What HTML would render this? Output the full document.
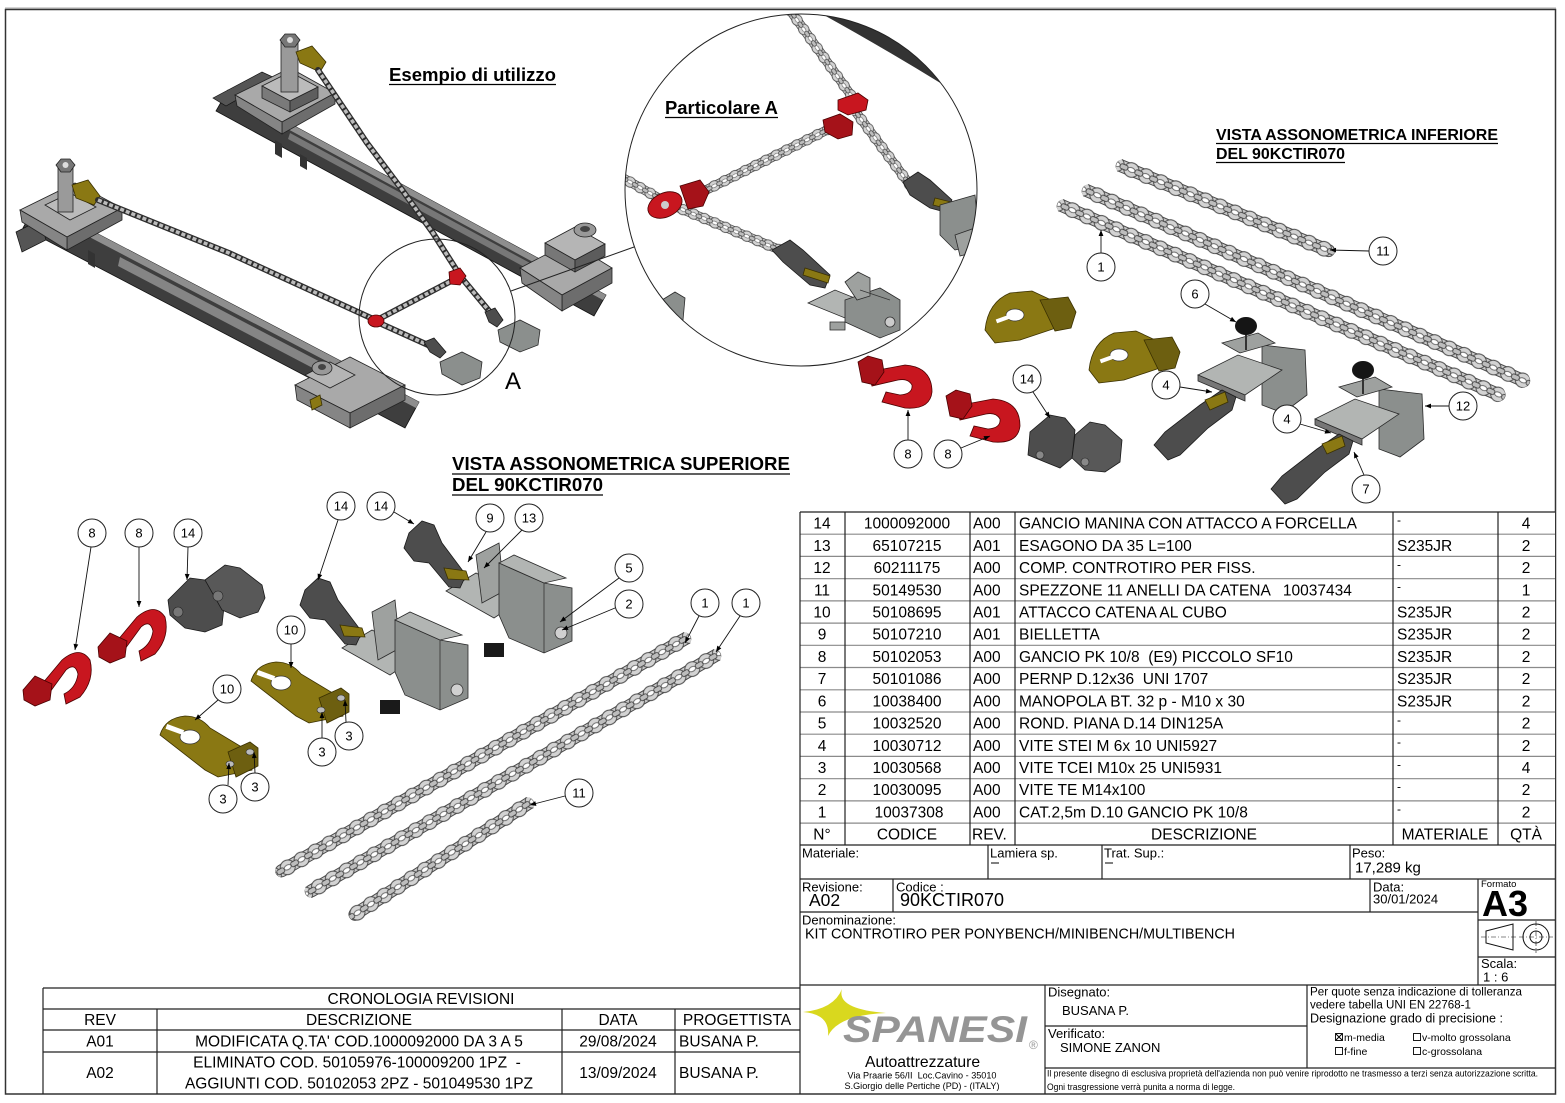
<!DOCTYPE html>
<html><head><meta charset="utf-8">
<style>
html,body{margin:0;padding:0;background:#fff}
svg{display:block}
text{font-family:"Liberation Sans",Arial,sans-serif;fill:#000;white-space:pre}
.t{font-size:15.5px}
.b{font-weight:bold}
.ln{stroke:#222;stroke-width:1.2;fill:none}
.lg{stroke:#8a8a8a;stroke-width:1.2;fill:none}
.ms1{fill:none;stroke:#2e2e2e;stroke-width:6;stroke-linecap:round;stroke-linejoin:round}
.ms2{fill:none;stroke:#bcbcbc;stroke-width:3.5;stroke-dasharray:4 2;stroke-linejoin:round}
.bl circle{fill:#fff;stroke:#222;stroke-width:1}
.bl text{font-size:13px;text-anchor:middle}
.ld{stroke:#111;stroke-width:0.9;marker-end:url(#ar)}
.red{fill:#c8161f;stroke:#4a0000;stroke-width:0.8}
.red2{fill:#a51219;stroke:#4a0000;stroke-width:0.8}
.dg{fill:#4d4d4d;stroke:#1a1a1a;stroke-width:0.8}
.gy{fill:#8b8f8d;stroke:#2a2a2a;stroke-width:0.8}
.gl{fill:#b2b5b3;stroke:#2a2a2a;stroke-width:0.8}
.gm{fill:#9ea19f;stroke:#2a2a2a;stroke-width:0.8}
.ol{fill:#8a7813;stroke:#3a3000;stroke-width:0.8}
.ol2{fill:#6d5f10;stroke:#3a3000;stroke-width:0.8}
.cbg{fill:#c9c9c9;stroke:#4a4a4a;stroke-width:1}
.cpt{fill:url(#chB)}
</style></head><body>
<svg width="1565" height="1103" viewBox="0 0 1565 1103" xmlns="http://www.w3.org/2000/svg">
<defs>
<marker id="ar" viewBox="0 0 10 10" refX="10" refY="5" markerWidth="8" markerHeight="6" markerUnits="userSpaceOnUse" orient="auto"><path d="M0,1 L10,5 L0,9 z" fill="#000"/></marker>
<clipPath id="cp"><circle cx="801" cy="190" r="176"/></clipPath>
<pattern id="chB" patternUnits="userSpaceOnUse" x="0" y="-8" width="16" height="16">
 <ellipse cx="8" cy="8" rx="7.6" ry="7.2" fill="#d3d3d3" stroke="#4a4a4a" stroke-width="1"/>
 <ellipse cx="8" cy="8" rx="3.8" ry="2.3" fill="#fff" stroke="#5a5a5a" stroke-width="0.8"/>
 <rect x="-4" y="5.5" width="8" height="5" rx="2" fill="#bdbdbd" stroke="#4a4a4a" stroke-width="0.9"/>
 <rect x="12" y="5.5" width="8" height="5" rx="2" fill="#bdbdbd" stroke="#4a4a4a" stroke-width="0.9"/>
</pattern>
</defs>

<!-- page border -->
<line x1="5" y1="8" x2="1556" y2="8" stroke="#aaa" stroke-width="1"/>
<rect x="5.5" y="9.5" width="1550" height="1084.5" fill="none" stroke="#333" stroke-width="1.5"/>

<!-- ===== MAIN ASSEMBLY ===== -->
<g>
 <polygon points="228,90 606,295 594,316 216,111" fill="#3e3e3e" stroke="#111" stroke-width="0.8"/>
 <polygon points="228,90 606,295 603,300 225,95" fill="#8e8e8e"/>
 <polygon points="290,133 530,263 528,269 288,139" fill="#777"/>
 <polygon points="275,140 282,144 282,158 275,154" fill="#333"/>
 <polygon points="300,154 307,158 307,170 300,166" fill="#333"/>
 <polygon points="37,202 419,402 405,428 23,228" fill="#3e3e3e" stroke="#111" stroke-width="0.8"/>
 <polygon points="37,202 419,402 416,408 34,208" fill="#8e8e8e"/>
 <polygon points="120,257 330,367 328,376 118,266" fill="#858585"/>
 <polygon points="88,250 95,254 95,268 88,264" fill="#333"/>

 <polygon points="213,98 262,72 275,78 226,106" fill="#555" stroke="#111" stroke-width="0.7"/>
 <polygon points="235,95 290,68 335,93 282,122" fill="#a9a9a9" stroke="#222" stroke-width="0.8"/>
 <polygon points="282,122 335,93 335,104 282,134" fill="#6d6d6d" stroke="#222" stroke-width="0.8"/>
 <polygon points="235,95 282,122 282,134 237,106" fill="#858585" stroke="#222" stroke-width="0.8"/>
 <polygon points="262,86 290,72 318,87 290,101" fill="#bbb" stroke="#222" stroke-width="0.8"/>
 <polygon points="262,86 290,101 290,112 262,98" fill="#7a7a7a" stroke="#222" stroke-width="0.8"/>
 <polygon points="290,101 318,87 318,98 290,112" fill="#5e5e5e" stroke="#222" stroke-width="0.8"/>
 <rect x="281" y="42" width="17" height="50" fill="#9a9a9a" stroke="#222" stroke-width="0.8"/>
 <polygon points="280,40 285,34 295,34 300,40 295,47 285,47" fill="#777" stroke="#222" stroke-width="0.8"/>
 <circle cx="290" cy="40" r="3" fill="#ddd"/>
 <polygon points="296,52 312,46 326,62 320,72 300,63" class="ol"/>
 <polygon points="16,232 40,220 46,240 22,252" fill="#555" stroke="#111" stroke-width="0.7"/>
 <polygon points="20,210 75,183 122,208 67,237" fill="#a9a9a9" stroke="#222" stroke-width="0.8"/>
 <polygon points="67,237 122,208 122,220 67,250" fill="#6d6d6d" stroke="#222" stroke-width="0.8"/>
 <polygon points="20,210 67,237 67,250 22,222" fill="#858585" stroke="#222" stroke-width="0.8"/>
 <polygon points="45,205 70,193 96,207 70,220" fill="#bbb" stroke="#222" stroke-width="0.8"/>
 <rect x="58" y="167" width="15" height="45" fill="#9a9a9a" stroke="#222" stroke-width="0.8"/>
 <polygon points="56,165 61,159 70,159 75,165 70,172 61,172" fill="#777" stroke="#222" stroke-width="0.8"/>
 <circle cx="65.5" cy="165" r="3" fill="#ddd"/>
 <polygon points="72,185 88,180 100,196 94,205 76,198" class="ol"/>
 <polygon points="520,268 570,242 612,268 562,295" fill="#a9a9a9" stroke="#222" stroke-width="0.8"/>
 <polygon points="562,295 612,268 612,283 562,311" fill="#6d6d6d" stroke="#222" stroke-width="0.8"/>
 <polygon points="520,268 562,295 562,311 522,283" fill="#858585" stroke="#222" stroke-width="0.8"/>
 <polygon points="545,243 575,227 605,244 575,260" fill="#b5b5b5" stroke="#222" stroke-width="0.8"/>
 <polygon points="545,243 575,260 575,272 545,255" fill="#777" stroke="#222" stroke-width="0.8"/>
 <polygon points="575,260 605,244 605,256 575,272" fill="#5c5c5c" stroke="#222" stroke-width="0.8"/>
 <ellipse cx="585" cy="230" rx="11" ry="7" fill="#999" stroke="#222" stroke-width="0.8"/>
 <ellipse cx="585" cy="229" rx="5" ry="3" fill="#444"/>
 <polygon points="295,385 350,357 405,385 350,413" fill="#a9a9a9" stroke="#222" stroke-width="0.8"/>
 <polygon points="350,413 405,385 405,400 350,428" fill="#6d6d6d" stroke="#222" stroke-width="0.8"/>
 <polygon points="295,385 350,413 350,428 297,400" fill="#858585" stroke="#222" stroke-width="0.8"/>
 <polygon points="305,375 330,362 355,375 330,388" fill="#b5b5b5" stroke="#222" stroke-width="0.8"/>
 <ellipse cx="322" cy="368" rx="10" ry="7" fill="#999" stroke="#222" stroke-width="0.8"/>
 <ellipse cx="322" cy="367" rx="4" ry="3" fill="#444"/>
 <polygon points="310,400 320,395 322,405 312,410" class="ol"/>

 <path class="ms1" d="M318,70 L367,143 L400,187 L433,233 L461,277 L490,312"/>
 <path class="ms2" d="M318,70 L367,143 L400,187 L433,233 L461,277 L490,312"/>
 <path class="ms1" d="M98,200 L229,253 L371,318"/>
 <path class="ms2" d="M98,200 L229,253 L371,318"/>
 <path class="ms1" d="M377,320 L455,279"/>
 <path class="ms2" d="M377,320 L455,279"/>
 <path class="ms1" d="M377,322 L428,345"/>
 <path class="ms2" d="M377,322 L428,345"/>
 <ellipse cx="376" cy="321" rx="8" ry="6" class="red"/>
 <polygon points="449,272 460,268 466,276 460,285 450,284" class="red"/>
 <polygon points="485,312 495,308 503,320 497,327 489,322" class="dg"/>
 <polygon points="498,330 520,320 540,330 538,345 520,352 500,342" class="gy"/>
 <polygon points="424,342 434,338 446,352 440,358 430,352" class="dg"/>
 <polygon points="440,362 462,352 482,362 480,378 462,385 442,374" class="gy"/>

 <circle cx="437" cy="317" r="78" fill="none" stroke="#222" stroke-width="1"/>
 <text x="505" y="389" font-size="24">A</text>
 <line x1="511" y1="291" x2="634" y2="247" stroke="#222" stroke-width="1"/>
</g>
<text x="389" y="81" class="b" font-size="18" textLength="167" lengthAdjust="spacingAndGlyphs">Esempio di utilizzo</text>
<line x1="389" y1="84.5" x2="556" y2="84.5" stroke="#000" stroke-width="1.3"/>

<!-- ===== PARTICOLARE A ===== -->
<g clip-path="url(#cp)">
 <path d="M815,0 L970,0 L970,110 L942,84 Q880,46 822,14 Z" fill="#333"/>
 <g transform="translate(787,6) rotate(54.35) scale(0.72)"><rect x="-8" y="-6" width="173" height="12" rx="6" class="cbg"/><rect x="-8" y="-8" width="173" height="16" rx="8" class="cpt"/></g>
 <g transform="translate(858,115) rotate(53.4) scale(0.72)"><rect x="-8" y="-6" width="137" height="12" rx="6" class="cbg"/><rect x="-8" y="-8" width="137" height="16" rx="8" class="cpt"/></g>
 <g transform="translate(833,127) rotate(153.6) scale(0.72)"><rect x="-8" y="-6" width="219" height="12" rx="6" class="cbg"/><rect x="-8" y="-8" width="219" height="16" rx="8" class="cpt"/></g>
 <g transform="translate(605,168) rotate(29.17) scale(0.72)"><rect x="-8" y="-6" width="96" height="12" rx="6" class="cbg"/><rect x="-8" y="-8" width="96" height="16" rx="8" class="cpt"/></g>
 <g transform="translate(667,203) rotate(22.58) scale(0.72)"><rect x="-8" y="-6" width="186" height="12" rx="6" class="cbg"/><rect x="-8" y="-8" width="186" height="16" rx="8" class="cpt"/></g>
 <polygon points="838,100 858,93 868,100 866,110 848,115 838,110" class="red"/>
 <polygon points="823,120 840,114 853,122 852,135 838,139 825,132" class="red2"/>
 <ellipse cx="665" cy="205" rx="18" ry="12" transform="rotate(-25 665 205)" class="red"/>
 <circle cx="665" cy="205" r="4" fill="#ccc"/>
 <polygon points="680,186 700,180 709,192 703,206 688,209" class="red2"/>
 <polygon points="772,250 790,240 803,250 830,275 825,288 810,285 783,262" class="dg"/>
 <polygon points="805,268 830,276 828,283 803,275" class="ol"/>
 <polygon points="808,303 835,290 872,305 845,318" class="gl"/>
 <polygon points="845,300 880,288 900,300 900,330 880,338 845,322" class="gy"/>
 <polygon points="845,282 858,272 870,278 870,296 857,300" class="gm"/>
 <line x1="860" y1="290" x2="890" y2="300" stroke="#333" stroke-width="0.8"/>
 <circle cx="890" cy="322" r="5" fill="#ccc" stroke="#333" stroke-width="0.8"/>
 <polygon points="830,322 845,322 845,330 830,330" class="gm"/>
 <polygon points="903,182 918,172 930,180 952,200 945,212 930,208 910,195" class="dg"/>
 <polygon points="935,198 955,203 953,210 933,205" class="ol"/>
 <polygon points="940,205 975,195 980,245 955,250 940,235" class="gy"/>
 <polygon points="955,235 975,228 975,252 960,256" class="gm"/>
 <polygon points="662,300 675,292 685,298 683,320 668,322" class="gy"/>
</g>
<circle cx="801" cy="190" r="176" fill="none" stroke="#222" stroke-width="1"/>
<text x="665" y="114" class="b" font-size="18" textLength="113" lengthAdjust="spacingAndGlyphs">Particolare A</text>
<line x1="665" y1="117.5" x2="778" y2="117.5" stroke="#000" stroke-width="1.3"/>

<!-- ===== VISTA INFERIORE (top right) ===== -->
<text x="1216" y="140" class="b" font-size="15.6" textLength="282" lengthAdjust="spacingAndGlyphs">VISTA ASSONOMETRICA INFERIORE</text>
<line x1="1216" y1="143.5" x2="1498" y2="143.5" stroke="#000" stroke-width="1.2"/>
<text x="1216" y="159" class="b" font-size="15.6" textLength="129" lengthAdjust="spacingAndGlyphs">DEL 90KCTIR070</text>
<line x1="1216" y1="162.5" x2="1345" y2="162.5" stroke="#000" stroke-width="1.2"/>

<g>
 <g transform="translate(1124,167) rotate(22.24)"><rect x="-8" y="-6" width="235" height="12" rx="6" class="cbg"/><rect x="-8" y="-8" width="235" height="16" rx="8" class="cpt"/></g>
 <g transform="translate(1090,192) rotate(23.52)"><rect x="-8" y="-6" width="487" height="12" rx="6" class="cbg"/><rect x="-8" y="-8" width="487" height="16" rx="8" class="cpt"/></g>
 <g transform="translate(1065,207) rotate(23.4)"><rect x="-8" y="-6" width="487" height="12" rx="6" class="cbg"/><rect x="-8" y="-8" width="487" height="16" rx="8" class="cpt"/></g>

 <g>
  <path d="M985,330 Q988,302 1010,293 L1032,291 L1062,305 L1062,326 L1020,340 L995,343 Z" class="ol"/>
  <ellipse cx="1015" cy="315" rx="9" ry="6" fill="#fff" stroke="#333" stroke-width="0.7"/>
  <rect x="996" y="317" width="14" height="4" fill="#fff" transform="rotate(-20 1003 319)"/>
  <polygon points="1040,300 1068,297 1076,312 1071,328 1055,331" class="ol2"/>
 </g>
 <g transform="translate(104,40)">
  <path d="M985,330 Q988,302 1010,293 L1032,291 L1062,305 L1062,326 L1020,340 L995,343 Z" class="ol"/>
  <ellipse cx="1015" cy="315" rx="9" ry="6" fill="#fff" stroke="#333" stroke-width="0.7"/>
  <rect x="996" y="317" width="14" height="4" fill="#fff" transform="rotate(-20 1003 319)"/>
  <polygon points="1040,300 1068,297 1076,312 1071,328 1055,331" class="ol2"/>
 </g>
 <g>
  <path d="M868,372 L905,365 Q932,367 932,392 Q930,410 905,408 L882,402 L886,392 L900,395 Q913,394 912,385 Q908,378 898,380 L872,386 Z" class="red"/>
  <polygon points="858,362 868,356 882,360 884,372 875,385 862,382" class="red2"/>
 </g>
 <g transform="translate(88,34)">
  <path d="M868,372 L905,365 Q932,367 932,392 Q930,410 905,408 L882,402 L886,392 L900,395 Q913,394 912,385 Q908,378 898,380 L872,386 Z" class="red"/>
  <polygon points="858,362 868,356 882,360 884,372 875,385 862,382" class="red2"/>
 </g>
 <polygon points="1028,455 1030,432 1050,415 1065,418 1075,430 1072,458 1060,468 1045,462" class="dg"/>
 <polygon points="1072,458 1075,435 1090,422 1105,425 1122,440 1120,462 1105,472 1085,470" class="dg" style="fill:#585858"/>
 <circle cx="1040" cy="455" r="4" fill="#888" stroke="#222" stroke-width="0.6"/>
 <circle cx="1085" cy="462" r="4" fill="#888" stroke="#222" stroke-width="0.6"/>
 <g>
  <polygon points="1262,345 1305,350 1307,395 1283,413 1262,405" class="gy"/>
  <polygon points="1198,375 1238,355 1282,370 1245,395" class="gl"/>
  <polygon points="1198,375 1245,395 1245,401 1198,381" fill="#777" stroke="#2a2a2a" stroke-width="0.8"/>
  <polygon points="1222,343 1258,333 1275,343 1240,353" class="gm"/>
  <line x1="1246" y1="333" x2="1246" y2="350" stroke="#333" stroke-width="2"/>
  <ellipse cx="1246" cy="326" rx="11" ry="9" fill="#151515"/>
  <polygon points="1154,445 1165,432 1200,405 1222,390 1236,397 1232,410 1208,428 1180,455 1168,460" class="dg"/>
  <polygon points="1205,400 1225,392 1228,402 1210,410" class="ol"/>
 </g>
 <g transform="translate(117,44)">
  <polygon points="1262,345 1305,350 1307,395 1283,413 1262,405" class="gy"/>
  <polygon points="1198,375 1238,355 1282,370 1245,395" class="gl"/>
  <polygon points="1198,375 1245,395 1245,401 1198,381" fill="#777" stroke="#2a2a2a" stroke-width="0.8"/>
  <polygon points="1222,343 1258,333 1275,343 1240,353" class="gm"/>
  <line x1="1246" y1="333" x2="1246" y2="350" stroke="#333" stroke-width="2"/>
  <ellipse cx="1246" cy="326" rx="11" ry="9" fill="#151515"/>
  <polygon points="1154,445 1165,432 1200,405 1222,390 1236,397 1232,410 1208,428 1180,455 1168,460" class="dg"/>
  <polygon points="1205,400 1225,392 1228,402 1210,410" class="ol"/>
 </g>
 <line class="ld" x1="1369" y1="251" x2="1330" y2="250"/>
 <line class="ld" x1="1101" y1="253" x2="1101" y2="230"/>
 <line class="ld" x1="1205" y1="304" x2="1236" y2="322"/>
 <line class="ld" x1="1180" y1="387" x2="1212" y2="392"/>
 <line class="ld" x1="1033" y1="392" x2="1050" y2="418"/>
 <line class="ld" x1="908" y1="440" x2="908" y2="410"/>
 <line class="ld" x1="961" y1="448" x2="990" y2="436"/>
 <line class="ld" x1="1300" y1="424" x2="1331" y2="433"/>
 <line class="ld" x1="1449" y1="406" x2="1425" y2="406"/>
 <line class="ld" x1="1364" y1="475" x2="1354" y2="452"/>
 <g class="bl">
  <circle cx="1383" cy="251" r="14"/><text x="1383" y="255.5">11</text>
  <circle cx="1101" cy="267" r="14"/><text x="1101" y="271.5">1</text>
  <circle cx="1195" cy="294" r="14"/><text x="1195" y="298.5">6</text>
  <circle cx="1166" cy="385" r="14"/><text x="1166" y="389.5">4</text>
  <circle cx="1027" cy="379" r="14"/><text x="1027" y="383.5">14</text>
  <circle cx="908" cy="454" r="14"/><text x="908" y="458.5">8</text>
  <circle cx="948" cy="454" r="14"/><text x="948" y="458.5">8</text>
  <circle cx="1287" cy="419" r="14"/><text x="1287" y="423.5">4</text>
  <circle cx="1463" cy="406" r="14"/><text x="1463" y="410.5">12</text>
  <circle cx="1366" cy="489" r="14"/><text x="1366" y="493.5">7</text>
 </g>
</g>

<!-- ===== VISTA SUPERIORE (bottom left) ===== -->
<text x="452" y="470" class="b" font-size="18" textLength="338" lengthAdjust="spacingAndGlyphs">VISTA ASSONOMETRICA SUPERIORE</text>
<line x1="452" y1="474" x2="790" y2="474" stroke="#000" stroke-width="1.3"/>
<text x="452" y="491" class="b" font-size="18" textLength="151" lengthAdjust="spacingAndGlyphs">DEL 90KCTIR070</text>
<line x1="452" y1="495" x2="603" y2="495" stroke="#000" stroke-width="1.3"/>

<g>
 <g transform="translate(683,640) rotate(150.1)"><rect x="-8" y="-6" width="477" height="12" rx="6" class="cbg"/><rect x="-8" y="-8" width="477" height="16" rx="8" class="cpt"/></g>
 <g transform="translate(713,657) rotate(149.78)"><rect x="-8" y="-6" width="479" height="12" rx="6" class="cbg"/><rect x="-8" y="-8" width="479" height="16" rx="8" class="cpt"/></g>
 <g transform="translate(526,805) rotate(147.42)"><rect x="-8" y="-6" width="217" height="12" rx="6" class="cbg"/><rect x="-8" y="-8" width="217" height="16" rx="8" class="cpt"/></g>

 <g>
  <path d="M42,684 L62,660 Q80,645 90,660 Q95,680 80,697 L66,704 L64,694 Q76,688 78,674 Q75,662 66,670 L50,692 Z" class="red"/>
  <polygon points="23,690 35,676 52,684 50,700 35,706 24,700" class="red2"/>
 </g>
 <g transform="translate(75,-43)">
  <path d="M42,684 L62,660 Q80,645 90,660 Q95,680 80,697 L66,704 L64,694 Q76,688 78,674 Q75,662 66,670 L50,692 Z" class="red"/>
  <polygon points="23,690 35,676 52,684 50,700 35,706 24,700" class="red2"/>
 </g>
 <polygon points="168,600 190,578 205,580 225,598 222,625 205,632 185,628 170,615" class="dg"/>
 <polygon points="205,580 225,565 240,568 262,585 265,598 258,612 240,618 222,610" class="dg" style="fill:#585858"/>
 <circle cx="178" cy="612" r="5" fill="#777" stroke="#222" stroke-width="0.6"/>
 <circle cx="218" cy="596" r="5" fill="#777" stroke="#222" stroke-width="0.6"/>
 <g>
  <polygon points="342,648 372,630 420,655 390,675" class="gl"/>
  <polygon points="372,612 395,600 400,648 378,660" class="gm"/>
  <polygon points="395,620 440,640 468,645 468,698 440,710 405,695 395,672" class="gy"/>
  <polygon points="395,620 410,612 462,635 440,640" class="gl"/>
  <line x1="440" y1="640" x2="440" y2="710" stroke="#333" stroke-width="0.8"/>
  <rect x="380" y="700" width="20" height="14" fill="#1a1a1a"/>
  <circle cx="457" cy="690" r="6" fill="#d0d0d0" stroke="#333" stroke-width="0.8"/>
  <polygon points="300,605 305,590 318,578 330,582 338,600 362,632 356,645 345,644 325,620 310,618" class="dg"/>
  <polygon points="340,625 362,628 365,637 344,636" class="ol"/>
 </g>
 <g transform="translate(104,-57)">
  <polygon points="342,648 372,630 420,655 390,675" class="gl"/>
  <polygon points="372,612 395,600 400,648 378,660" class="gm"/>
  <polygon points="395,620 440,640 468,645 468,698 440,710 405,695 395,672" class="gy"/>
  <polygon points="395,620 410,612 462,635 440,640" class="gl"/>
  <line x1="440" y1="640" x2="440" y2="710" stroke="#333" stroke-width="0.8"/>
  <rect x="380" y="700" width="20" height="14" fill="#1a1a1a"/>
  <circle cx="457" cy="690" r="6" fill="#d0d0d0" stroke="#333" stroke-width="0.8"/>
  <polygon points="300,605 305,590 318,578 330,582 338,600 362,632 356,645 345,644 325,620 310,618" class="dg"/>
  <polygon points="340,625 362,628 365,637 344,636" class="ol"/>
 </g>
 <g>
  <path d="M160,735 Q165,718 185,716 Q200,716 210,728 L250,752 L252,770 L218,777 L205,770 Z" class="ol"/>
  <ellipse cx="190" cy="737" rx="10" ry="7" fill="#fff" stroke="#333" stroke-width="0.7"/>
  <rect x="166" y="727" width="18" height="5" fill="#fff" transform="rotate(20 175 729)"/>
  <polygon points="228,752 250,742 258,748 258,766 236,777" class="ol2"/>
  <ellipse cx="230" cy="764" rx="4" ry="3" fill="#bbb" stroke="#333" stroke-width="0.6"/>
  <ellipse cx="250" cy="752" rx="4" ry="3" fill="#bbb" stroke="#333" stroke-width="0.6"/>
 </g>
 <g transform="translate(91,-54)">
  <path d="M160,735 Q165,718 185,716 Q200,716 210,728 L250,752 L252,770 L218,777 L205,770 Z" class="ol"/>
  <ellipse cx="190" cy="737" rx="10" ry="7" fill="#fff" stroke="#333" stroke-width="0.7"/>
  <rect x="166" y="727" width="18" height="5" fill="#fff" transform="rotate(20 175 729)"/>
  <polygon points="228,752 250,742 258,748 258,766 236,777" class="ol2"/>
  <ellipse cx="230" cy="764" rx="4" ry="3" fill="#bbb" stroke="#333" stroke-width="0.6"/>
  <ellipse cx="250" cy="752" rx="4" ry="3" fill="#bbb" stroke="#333" stroke-width="0.6"/>
 </g>
 <line class="ld" x1="91" y1="547" x2="75" y2="650"/>
 <line class="ld" x1="139" y1="547" x2="139" y2="607"/>
 <line class="ld" x1="188" y1="547" x2="187" y2="580"/>
 <line class="ld" x1="338" y1="520" x2="318" y2="580"/>
 <line class="ld" x1="394" y1="512" x2="414" y2="524"/>
 <line class="ld" x1="486" y1="532" x2="468" y2="562"/>
 <line class="ld" x1="522" y1="530" x2="484" y2="568"/>
 <line class="ld" x1="619" y1="578" x2="560" y2="622"/>
 <line class="ld" x1="615" y1="608" x2="562" y2="630"/>
 <line class="ld" x1="291" y1="644" x2="291" y2="668"/>
 <line class="ld" x1="218" y1="700" x2="195" y2="720"/>
 <line class="ld" x1="346" y1="722" x2="345" y2="700"/>
 <line class="ld" x1="322" y1="738" x2="322" y2="712"/>
 <line class="ld" x1="255" y1="773" x2="254" y2="752"/>
 <line class="ld" x1="228" y1="785" x2="229" y2="763"/>
 <line class="ld" x1="699" y1="616" x2="685" y2="643"/>
 <line class="ld" x1="740" y1="616" x2="716" y2="652"/>
 <line class="ld" x1="565" y1="796" x2="530" y2="805"/>
 <g class="bl">
  <circle cx="92" cy="533" r="14"/><text x="92" y="537.5">8</text>
  <circle cx="139" cy="533" r="14"/><text x="139" y="537.5">8</text>
  <circle cx="188" cy="533" r="14"/><text x="188" y="537.5">14</text>
  <circle cx="341" cy="506" r="14"/><text x="341" y="510.5">14</text>
  <circle cx="381" cy="506" r="14"/><text x="381" y="510.5">14</text>
  <circle cx="490" cy="518" r="14"/><text x="490" y="522.5">9</text>
  <circle cx="529" cy="518" r="14"/><text x="529" y="522.5">13</text>
  <circle cx="629" cy="568" r="14"/><text x="629" y="572.5">5</text>
  <circle cx="629" cy="604" r="14"/><text x="629" y="608.5">2</text>
  <circle cx="291" cy="630" r="14"/><text x="291" y="634.5">10</text>
  <circle cx="227" cy="689" r="14"/><text x="227" y="693.5">10</text>
  <circle cx="349" cy="736" r="14"/><text x="349" y="740.5">3</text>
  <circle cx="322" cy="752" r="14"/><text x="322" y="756.5">3</text>
  <circle cx="255" cy="787" r="14"/><text x="255" y="791.5">3</text>
  <circle cx="223" cy="799" r="14"/><text x="223" y="803.5">3</text>
  <circle cx="705" cy="603" r="14"/><text x="705" y="607.5">1</text>
  <circle cx="746" cy="603" r="14"/><text x="746" y="607.5">1</text>
  <circle cx="579" cy="793" r="14"/><text x="579" y="797.5">11</text>
 </g>
</g>

<!-- ===== PARTS TABLE ===== -->
<g>
 <rect x="800" y="512" width="755" height="333" fill="#fff" stroke="none"/>
 <line class="ln" x1="800" y1="512" x2="1555" y2="512"/>
 <line class="lg" x1="800" y1="534.2" x2="1555" y2="534.2"/>
 <line class="lg" x1="800" y1="556.4" x2="1555" y2="556.4"/>
 <line class="lg" x1="800" y1="578.7" x2="1555" y2="578.7"/>
 <line class="lg" x1="800" y1="600.9" x2="1555" y2="600.9"/>
 <line class="lg" x1="800" y1="623.1" x2="1555" y2="623.1"/>
 <line class="lg" x1="800" y1="645.3" x2="1555" y2="645.3"/>
 <line class="lg" x1="800" y1="667.5" x2="1555" y2="667.5"/>
 <line class="lg" x1="800" y1="689.8" x2="1555" y2="689.8"/>
 <line class="lg" x1="800" y1="712" x2="1555" y2="712"/>
 <line class="lg" x1="800" y1="734.2" x2="1555" y2="734.2"/>
 <line class="lg" x1="800" y1="756.4" x2="1555" y2="756.4"/>
 <line class="lg" x1="800" y1="778.7" x2="1555" y2="778.7"/>
 <line class="lg" x1="800" y1="800.9" x2="1555" y2="800.9"/>
 <line class="lg" x1="800" y1="823.1" x2="1555" y2="823.1"/>
 <line class="ln" x1="845" y1="512" x2="845" y2="845"/>
 <line class="ln" x1="970" y1="512" x2="970" y2="845"/>
 <line class="ln" x1="1015" y1="512" x2="1015" y2="845"/>
 <line class="ln" x1="1393" y1="512" x2="1393" y2="845"/>
 <line class="ln" x1="1498" y1="512" x2="1498" y2="845"/>
 <line class="ln" x1="800" y1="512" x2="800" y2="1094"/>

 <g class="t">
 <text x="822" y="528.6" text-anchor="middle">14</text><text x="907" y="528.6" text-anchor="middle">1000092000</text><text x="973" y="528.6">A00</text><text x="1019" y="528.6">GANCIO MANINA CON ATTACCO A FORCELLA</text><text x="1397" y="524" font-size="12">-</text><text x="1526" y="528.6" text-anchor="middle">4</text>
 <text x="822" y="550.8" text-anchor="middle">13</text><text x="907" y="550.8" text-anchor="middle">65107215</text><text x="973" y="550.8">A01</text><text x="1019" y="550.8">ESAGONO DA 35 L=100</text><text x="1397" y="550.8">S235JR</text><text x="1526" y="550.8" text-anchor="middle">2</text>
 <text x="822" y="573" text-anchor="middle">12</text><text x="907" y="573" text-anchor="middle">60211175</text><text x="973" y="573">A00</text><text x="1019" y="573">COMP. CONTROTIRO PER FISS.</text><text x="1397" y="568.5" font-size="12">-</text><text x="1526" y="573" text-anchor="middle">2</text>
 <text x="822" y="595.3" text-anchor="middle">11</text><text x="907" y="595.3" text-anchor="middle">50149530</text><text x="973" y="595.3">A00</text><text x="1019" y="595.3">SPEZZONE 11 ANELLI DA CATENA   10037434</text><text x="1397" y="590.7" font-size="12">-</text><text x="1526" y="595.3" text-anchor="middle">1</text>
 <text x="822" y="617.5" text-anchor="middle">10</text><text x="907" y="617.5" text-anchor="middle">50108695</text><text x="973" y="617.5">A01</text><text x="1019" y="617.5">ATTACCO CATENA AL CUBO</text><text x="1397" y="617.5">S235JR</text><text x="1526" y="617.5" text-anchor="middle">2</text>
 <text x="822" y="639.7" text-anchor="middle">9</text><text x="907" y="639.7" text-anchor="middle">50107210</text><text x="973" y="639.7">A01</text><text x="1019" y="639.7">BIELLETTA</text><text x="1397" y="639.7">S235JR</text><text x="1526" y="639.7" text-anchor="middle">2</text>
 <text x="822" y="661.9" text-anchor="middle">8</text><text x="907" y="661.9" text-anchor="middle">50102053</text><text x="973" y="661.9">A00</text><text x="1019" y="661.9">GANCIO PK 10/8  (E9) PICCOLO SF10</text><text x="1397" y="661.9">S235JR</text><text x="1526" y="661.9" text-anchor="middle">2</text>
 <text x="822" y="684.2" text-anchor="middle">7</text><text x="907" y="684.2" text-anchor="middle">50101086</text><text x="973" y="684.2">A00</text><text x="1019" y="684.2">PERNP D.12x36  UNI 1707</text><text x="1397" y="684.2">S235JR</text><text x="1526" y="684.2" text-anchor="middle">2</text>
 <text x="822" y="706.4" text-anchor="middle">6</text><text x="907" y="706.4" text-anchor="middle">10038400</text><text x="973" y="706.4">A00</text><text x="1019" y="706.4">MANOPOLA BT. 32 p - M10 x 30</text><text x="1397" y="706.4">S235JR</text><text x="1526" y="706.4" text-anchor="middle">2</text>
 <text x="822" y="728.6" text-anchor="middle">5</text><text x="907" y="728.6" text-anchor="middle">10032520</text><text x="973" y="728.6">A00</text><text x="1019" y="728.6">ROND. PIANA D.14 DIN125A</text><text x="1397" y="724" font-size="12">-</text><text x="1526" y="728.6" text-anchor="middle">2</text>
 <text x="822" y="750.8" text-anchor="middle">4</text><text x="907" y="750.8" text-anchor="middle">10030712</text><text x="973" y="750.8">A00</text><text x="1019" y="750.8">VITE STEI M 6x 10 UNI5927</text><text x="1397" y="746.2" font-size="12">-</text><text x="1526" y="750.8" text-anchor="middle">2</text>
 <text x="822" y="773" text-anchor="middle">3</text><text x="907" y="773" text-anchor="middle">10030568</text><text x="973" y="773">A00</text><text x="1019" y="773">VITE TCEI M10x 25 UNI5931</text><text x="1397" y="768.4" font-size="12">-</text><text x="1526" y="773" text-anchor="middle">4</text>
 <text x="822" y="795.2" text-anchor="middle">2</text><text x="907" y="795.2" text-anchor="middle">10030095</text><text x="973" y="795.2">A00</text><text x="1019" y="795.2">VITE TE M14x100</text><text x="1397" y="790.6" font-size="12">-</text><text x="1526" y="795.2" text-anchor="middle">2</text>
 <text x="822" y="817.5" text-anchor="middle">1</text><text x="909" y="817.5" text-anchor="middle">10037308</text><text x="973" y="817.5">A00</text><text x="1019" y="817.5">CAT.2,5m D.10 GANCIO PK 10/8</text><text x="1397" y="812.9" font-size="12">-</text><text x="1526" y="817.5" text-anchor="middle">2</text>
 <text x="822" y="839.7" text-anchor="middle">N°</text><text x="907" y="839.7" text-anchor="middle">CODICE</text><text x="972" y="839.7">REV.</text><text x="1204" y="839.7" text-anchor="middle">DESCRIZIONE</text><text x="1445" y="839.7" text-anchor="middle">MATERIALE</text><text x="1526" y="839.7" text-anchor="middle">QTÀ</text>
 </g>
</g>

<!-- ===== TITLE BLOCK ===== -->
<g>
 <line class="ln" x1="800" y1="845" x2="1555" y2="845"/>
 <line class="ln" x1="800" y1="879" x2="1555" y2="879"/>
 <line class="ln" x1="800" y1="912" x2="1478" y2="912"/>
 <line class="ln" x1="800" y1="985" x2="1555" y2="985"/>
 <line class="ln" x1="988" y1="845" x2="988" y2="879"/>
 <line class="ln" x1="1102" y1="845" x2="1102" y2="879"/>
 <line class="ln" x1="1350" y1="845" x2="1350" y2="879"/>
 <line class="ln" x1="893" y1="879" x2="893" y2="912"/>
 <line class="ln" x1="1370" y1="879" x2="1370" y2="912"/>
 <line class="ln" x1="1478" y1="879" x2="1478" y2="985"/>
 <line class="ln" x1="1478" y1="920" x2="1555" y2="920"/>
 <line class="ln" x1="1478" y1="957" x2="1555" y2="957"/>
 <line class="ln" x1="1045" y1="985" x2="1045" y2="1094"/>
 <line class="ln" x1="1307" y1="985" x2="1307" y2="1068"/>
 <line class="ln" x1="1045" y1="1026" x2="1307" y2="1026"/>
 <line class="ln" x1="1045" y1="1068" x2="1555" y2="1068"/>

 <text x="802" y="857.5" font-size="13">Materiale:</text>
 <text x="990" y="857.5" font-size="13">Lamiera sp.</text>
 <line x1="991" y1="863" x2="999" y2="863" stroke="#000" stroke-width="1"/>
 <text x="1104" y="857.5" font-size="13">Trat. Sup.:</text>
 <line x1="1105" y1="863" x2="1113" y2="863" stroke="#000" stroke-width="1"/>
 <text x="1352" y="857.5" font-size="13">Peso:</text>
 <text x="1355" y="872.5" font-size="15">17,289 kg</text>

 <text x="802" y="891.5" font-size="13">Revisione:</text>
 <text x="809" y="906" font-size="17.5">A02</text>
 <text x="896" y="891.5" font-size="13">Codice :</text>
 <text x="900" y="906" font-size="18">90KCTIR070</text>
 <text x="1373" y="891.5" font-size="13">Data:</text>
 <text x="1373" y="903.5" font-size="13">30/01/2024</text>
 <text x="1481" y="887" font-size="9.5">Formato</text>
 <text x="1482" y="916" font-size="36" class="b">A3</text>
 <polygon points="1486,931 1513,924 1513,950 1486,943" fill="none" stroke="#111" stroke-width="1"/>
 <line x1="1481" y1="937" x2="1518" y2="937" stroke="#111" stroke-width="0.6" stroke-dasharray="5 2 1 2"/>
 <circle cx="1536" cy="937" r="13" fill="none" stroke="#111" stroke-width="1"/>
 <circle cx="1536" cy="937" r="6" fill="none" stroke="#111" stroke-width="1"/>
 <line x1="1519" y1="937" x2="1553" y2="937" stroke="#111" stroke-width="0.6" stroke-dasharray="5 2 1 2"/>
 <line x1="1536" y1="921" x2="1536" y2="953" stroke="#111" stroke-width="0.6" stroke-dasharray="5 2 1 2"/>
 <text x="1481" y="968" font-size="13">Scala:</text>
 <text x="1483" y="981.5" font-size="13">1 : 6</text>

 <text x="802" y="924.5" font-size="13">Denominazione:</text>
 <text x="805" y="938.5" font-size="14.5" textLength="430" lengthAdjust="spacingAndGlyphs">KIT CONTROTIRO PER PONYBENCH/MINIBENCH/MULTIBENCH</text>

 <path d="M842,989 Q836,1009 886,1013 Q838,1015 828,1036 Q830,1014 803,1012 Q834,1009 842,989 Z" fill="#d9d81e"/>
 <text x="843" y="1042" font-size="37" font-weight="bold" font-style="italic" style="fill:#959595" textLength="184" lengthAdjust="spacingAndGlyphs">SPANESI</text>
 <text x="1029" y="1049" font-size="12" style="fill:#9a9a9a">®</text>
 <text x="865" y="1067" font-size="15.7">Autoattrezzature</text>
 <text x="922" y="1078.5" font-size="8.8" text-anchor="middle" textLength="149" lengthAdjust="spacingAndGlyphs">Via Praarie 56/II  Loc.Cavino - 35010</text>
 <text x="922" y="1089" font-size="8.8" text-anchor="middle" textLength="155" lengthAdjust="spacingAndGlyphs">S.Giorgio delle Pertiche (PD) - (ITALY)</text>

 <text x="1048" y="996.5" font-size="13">Disegnato:</text>
 <text x="1062" y="1015" font-size="13">BUSANA P.</text>
 <text x="1048" y="1038" font-size="13">Verificato:</text>
 <text x="1060" y="1052" font-size="13">SIMONE ZANON</text>

 <text x="1310" y="995.5" font-size="12" textLength="212" lengthAdjust="spacingAndGlyphs">Per quote senza indicazione di tolleranza</text>
 <text x="1310" y="1008.5" font-size="11.5" textLength="161" lengthAdjust="spacingAndGlyphs">vedere tabella UNI EN 22768-1</text>
 <text x="1310" y="1022.5" font-size="13" textLength="193" lengthAdjust="spacingAndGlyphs">Designazione grado di precisione :</text>
 <rect x="1335.5" y="1033.5" width="7" height="7" fill="none" stroke="#000" stroke-width="0.9"/>
 <path d="M1336,1034 L1342,1040 M1342,1034 L1336,1040" stroke="#000" stroke-width="1"/>
 <text x="1344" y="1041" font-size="10.5">m-media</text>
 <rect x="1413.5" y="1033.5" width="7" height="7" fill="none" stroke="#000" stroke-width="0.9"/>
 <text x="1422" y="1041" font-size="10.5">v-molto grossolana</text>
 <rect x="1335.5" y="1047.5" width="7" height="7" fill="none" stroke="#000" stroke-width="0.9"/>
 <text x="1344" y="1055" font-size="10.5">f-fine</text>
 <rect x="1413.5" y="1047.5" width="7" height="7" fill="none" stroke="#000" stroke-width="0.9"/>
 <text x="1422" y="1055" font-size="10.5">c-grossolana</text>

 <text x="1047" y="1076.5" font-size="9.3" textLength="491" lengthAdjust="spacingAndGlyphs">Il presente disegno di esclusiva proprietà dell'azienda non può venire riprodotto ne trasmesso a terzi senza autorizzazione scritta.</text>
 <text x="1047" y="1090" font-size="9.3" textLength="188" lengthAdjust="spacingAndGlyphs">Ogni trasgressione verrà punita a norma di legge.</text>
</g>

<!-- ===== REVISION TABLE ===== -->
<g>
 <line class="ln" x1="43" y1="988" x2="800" y2="988"/>
 <line class="ln" x1="43" y1="1009" x2="800" y2="1009"/>
 <line class="ln" x1="43" y1="1030" x2="800" y2="1030"/>
 <line class="ln" x1="43" y1="1052" x2="800" y2="1052"/>
 <line class="ln" x1="43" y1="988" x2="43" y2="1094"/>
 <line class="ln" x1="157" y1="1009" x2="157" y2="1094"/>
 <line class="ln" x1="562" y1="1009" x2="562" y2="1094"/>
 <line class="ln" x1="675" y1="1009" x2="675" y2="1094"/>
 <g class="t">
  <text x="421" y="1004" text-anchor="middle">CRONOLOGIA REVISIONI</text>
  <text x="100" y="1025" text-anchor="middle">REV</text>
  <text x="359" y="1025" text-anchor="middle">DESCRIZIONE</text>
  <text x="618" y="1025" text-anchor="middle">DATA</text>
  <text x="737" y="1025" text-anchor="middle">PROGETTISTA</text>
  <text x="100" y="1046.5" text-anchor="middle">A01</text>
  <text x="359" y="1046.5" text-anchor="middle">MODIFICATA Q.TA' COD.1000092000 DA 3 A 5</text>
  <text x="618" y="1046.5" text-anchor="middle">29/08/2024</text>
  <text x="679" y="1046.5">BUSANA P.</text>
  <text x="100" y="1078" text-anchor="middle">A02</text>
  <text x="357" y="1067.5" text-anchor="middle">ELIMINATO COD. 50105976-100009200 1PZ  -</text>
  <text x="359" y="1088.5" text-anchor="middle">AGGIUNTI COD. 50102053 2PZ - 501049530 1PZ</text>
  <text x="618" y="1078" text-anchor="middle">13/09/2024</text>
  <text x="679" y="1078">BUSANA P.</text>
 </g>
</g>
</svg>
</body></html>
